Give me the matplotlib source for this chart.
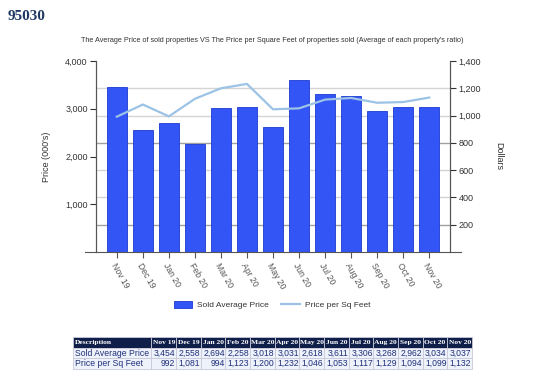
import matplotlib
matplotlib.use("Agg")
import matplotlib.pyplot as plt
from matplotlib.ticker import FuncFormatter
from matplotlib.patches import Patch
from matplotlib.lines import Line2D

plt.rcParams['font.family'] = ['Liberation Sans', 'DejaVu Sans']

months = ["Nov 19", "Dec 19", "Jan 20", "Feb 20", "Mar 20", "Apr 20", "May 20",
          "Jun 20", "Jul 20", "Aug 20", "Sep 20", "Oct 20", "Nov 20"]
avg_price = [3454, 2558, 2694, 2258, 3018, 3031, 2618, 3611, 3306, 3268, 2962, 3034, 3037]
price_sqft = [992, 1081, 994, 1123, 1200, 1232, 1046, 1053, 1117, 1129, 1094, 1099, 1132]

W, H = 554, 384
fig = plt.figure(figsize=(W / 100, H / 100), dpi=100)

def box(x0, y0, x1, y1):
    return [x0 / W, 1 - y1 / H, (x1 - x0) / W, (y1 - y0) / H]

ax = fig.add_axes(box(96, 61, 450, 252))
ax2 = ax.twinx()

x = list(range(len(months)))
ax.set_ylim(0, 4000)
ax2.set_ylim(0, 1400)
ax.set_xlim(-0.8, len(months) - 0.2)

grid_vals = [200, 400, 600, 800, 1000, 1200]
for g in grid_vals:
    c = '#a0a0a0' if g in (200, 800) else '#d4d4d4'
    ax2.axhline(g, color=c, lw=1.0, zorder=0)

ax.bar(x, avg_price, width=0.78, color='#3355f5', edgecolor='#1a3ad0', lw=0.6, zorder=2)
ax.set_zorder(ax2.get_zorder() + 1)
ax.patch.set_visible(False)
ax2.patch.set_visible(True)
ax2.patch.set_facecolor('white')

ax3 = ax.twinx()
ax3.set_ylim(0, 1400)
ax3.axis('off')
ax3.plot(x, price_sqft, color='#9cc3e6', lw=1.6, zorder=3)

ax.set_yticks([1000, 2000, 3000, 4000])
ax.yaxis.set_major_formatter(FuncFormatter(lambda v, p: f"{int(v):,}"))
ax2.set_yticks([200, 400, 600, 800, 1000, 1200, 1400])
ax2.yaxis.set_major_formatter(FuncFormatter(lambda v, p: f"{int(v):,}"))

ax.set_xticks(x)
ax.set_xticklabels(months, rotation=-60, ha='left', rotation_mode='anchor', fontsize=6.2, color='#333333')

for a in (ax, ax2):
    a.tick_params(axis='y', labelsize=6.5, colors='#333333', length=4, width=0.8, pad=2)
    for s in a.spines.values():
        s.set_color('#555555')
        s.set_linewidth(0.8)
ax.tick_params(axis='x', length=4, width=0.8, colors='#555555', pad=3)
ax.spines['top'].set_visible(False)
ax2.spines['top'].set_visible(False)
ax.spines['bottom'].set_visible(False)
ax2.spines['bottom'].set_visible(False)
ax.axhline(0, color='#555555', lw=0.8, xmin=-0.03, xmax=1.03, clip_on=False, zorder=5)

ax.set_ylabel("Price (000's)", fontsize=6.5, color='#333333', labelpad=10)
ax2.set_ylabel("Dollars", fontsize=6.5, color='#333333', rotation=-90, labelpad=16)

fig.text(8 / W, 1 - 16 / H, "95030", fontsize=11, fontweight='bold', family='Liberation Serif',
         color='#1f3864', va='center')
fig.text(272 / W, 1 - 40 / H,
         "The Average Price of sold properties VS The Price per Square Feet of properties sold (Average of each property's ratio)",
         fontsize=5.2, color='#333333', ha='center', va='center')

handles = [Patch(facecolor='#3355f5', edgecolor='#1a3ad0', lw=0.6),
           Line2D([0], [0], color='#9cc3e6', lw=1.6)]
fig.legend(handles, ["Sold Average Price", "Price per Sq Feet"], loc='center',
           bbox_to_anchor=(272 / W, 1 - 305 / H), ncol=2, frameon=False, fontsize=6,
           handlelength=2.2, handleheight=0.9, columnspacing=1.5, handletextpad=0.6,
           labelcolor='#333333')

tax = fig.add_axes(box(73, 337, 472, 369))
tax.axis('off')
header = ["Description"] + months
rows = [["Sold Average Price"] + [f"{v:,}" for v in avg_price],
        ["Price per Sq Feet"] + [f"{v:,}" for v in price_sqft]]
col_w = [78] + [24.5] * 13
tot = sum(col_w)
tbl = tax.table(cellText=[header] + rows, cellLoc='right', loc='center',
                colWidths=[c / tot for c in col_w], bbox=[0, 0, 1, 1])
tbl.auto_set_font_size(False)
for (r, c), cell in tbl.get_celld().items():
    cell.set_edgecolor('#c8c8d8')
    cell.set_linewidth(0.6)
    cell.PAD = 0.03
    t = cell.get_text()
    t.set_fontsize(6.2)
    if r == 0:
        cell.set_facecolor('#0f1f4a')
        t.set_color('white')
        t.set_fontweight('bold')
        t.set_family('Liberation Serif')
        t.set_fontsize(5.4)
        t.set_ha('left' if c == 0 else 'center')
    else:
        cell.set_facecolor('#eef2fb')
        t.set_color('#1f2f7a')
        if c == 0:
            t.set_ha('left')

fig.savefig("out.png", dpi=100)
